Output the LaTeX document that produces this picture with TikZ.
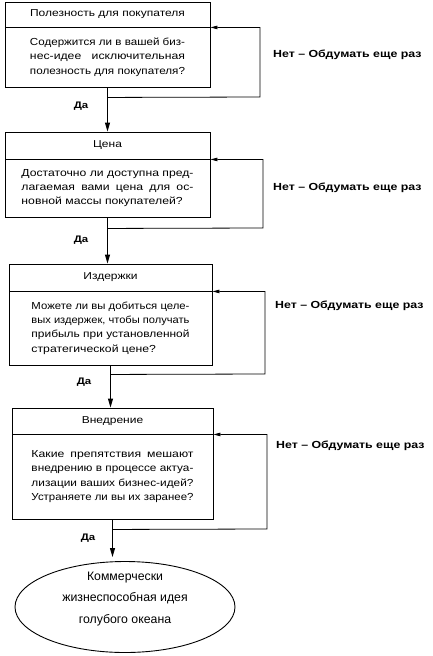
\documentclass[tikz,border=0pt]{standalone}
\usepackage{fontspec}
\usepackage{graphicx}
\setmainfont{Liberation Sans}[FakeStretch=1.2]
\newfontfamily\goalfont{Liberation Sans}
\usetikzlibrary{arrows.meta,shapes.geometric,calc}
\newcommand\jl[2]{\sbox0{#2}\ifdim\wd0>#1\resizebox{#1}{\height}{#2}\else\makebox[#1][s]{#2}\fi}
\tikzset{
  box/.style={draw, line width=0.9pt, inner sep=0pt, anchor=center},
  ttl/.style={font=\fontsize{10}{12}\selectfont},
  bodytxt/.style={font=\fontsize{10.2}{14.3}\selectfont, align=left},
  nolab/.style={font=\bfseries\fontsize{10.3}{12}\selectfont, anchor=west, inner sep=0pt},
  yeslab/.style={font=\bfseries\fontsize{9.5}{11}\selectfont, inner sep=0pt},
  flow/.style={line width=0.9pt, -{Triangle[length=9pt,width=5pt]}},
  back/.style={line width=0.8pt, -{Triangle[length=7pt,width=3.5pt]}},
  goal/.style={draw, ellipse, line width=0.9pt, inner sep=0pt},
  goaltxt/.style={align=center, inner sep=0pt, font=\goalfont\fontsize{12.3}{21.5}\selectfont},
}
\begin{document}
\begin{tikzpicture}[x=1pt,y=-1pt]
\useasboundingbox (0,0) rectangle (432,656);
% box 1
\node[box, ttl, minimum width=205pt, minimum height=25pt] (h1) at (107.5,14.5) {Полезность для покупателя};
\node[box, bodytxt, minimum width=205pt, minimum height=60pt] (b1) at (107.5,57)
  {\jl{155pt}{Содержится ли в вашей биз-}\\\jl{155pt}{нес-идее исключительная}\\\jl{155pt}{полезность для покупателя?}};
% box 2
\node[box, ttl, minimum width=205pt, minimum height=27pt] (h2) at (107.5,145.5) {Цена};
\node[box, bodytxt, minimum width=205pt, minimum height=58pt] (b2) at (107.5,188)
  {\jl{172pt}{Достаточно ли доступна пред-}\\\jl{172pt}{лагаемая вами цена для ос-}\\новной массы покупателей?};
% box 3
\node[box, ttl, minimum width=203pt, minimum height=27pt] (h3) at (110.5,277.5) {Издержки};
\node[box, bodytxt, minimum width=203pt, minimum height=74pt] (b3) at (110.5,328)
  {\jl{158pt}{Можете ли вы добиться целе-}\\\jl{158pt}{вых издержек, чтобы получать}\\\jl{158pt}{прибыль при установленной}\\стратегической цене?};
% box 4
\node[box, ttl, minimum width=201pt, minimum height=26pt] (h4) at (112.5,421) {Внедрение};
\node[box, bodytxt, minimum width=201pt, minimum height=85pt] (b4) at (112.5,476.5)
  {\jl{162pt}{Какие препятствия мешают}\\\jl{162pt}{внедрению в процессе актуа-}\\\jl{162pt}{лизации ваших бизнес-идей?}\\\jl{162pt}{Устраняете ли вы их заранее?}};
% goal
\node[goal, minimum width=220pt, minimum height=91pt] (g) at (125,607) {};
\node[goaltxt] (gt) at (125,599) {Коммерчески\\жизнеспособная идея\\голубого океана};
% flow arrows
\draw[flow] (b1.south) -- (b1.south |- h2.north);
\draw[flow] (b2.south) -- (b2.south |- h3.north);
\draw[flow] (b3.south) -- (b3.south |- h4.north);
\coordinate (e4) at ($(b4.south |- g.north)+(0,-4)$);
\draw[flow] (b4.south) -- (e4);
% loop corners
\coordinate (s1) at ($(b1.south)+(0,10)$);
\coordinate (s2) at ($(b2.south)+(0,11)$);
\coordinate (s3) at ($(b3.south)+(0,9)$);
\coordinate (s4) at ($(b4.south)+(0,10)$);
\coordinate (c1) at (260,97);
\coordinate (c2) at (263,228);
\coordinate (c3) at (265,374);
\coordinate (c4) at (267,529);
\draw[back] (s1) -- (c1) |- (h1.south east);
\draw[back] (s2) -- (c2) |- (h2.south east);
\draw[back] (s3) -- (c3) |- (h3.south east);
\draw[back] (s4) -- (c4) |- (h4.south east);
% labels
\node[nolab] (n1) at (273,55) {Нет – Обдумать еще раз};
\node[nolab] (n2) at (273,188) {Нет – Обдумать еще раз};
\node[nolab] (n3) at (275,306) {Нет – Обдумать еще раз};
\node[nolab] (n4) at (276,446) {Нет – Обдумать еще раз};
\node[yeslab] (y1) at (81,106) {Да};
\node[yeslab] (y2) at (81,240) {Да};
\node[yeslab] (y3) at (84,382) {Да};
\node[yeslab] (y4) at (88,538) {Да};
\end{tikzpicture}
\end{document}
